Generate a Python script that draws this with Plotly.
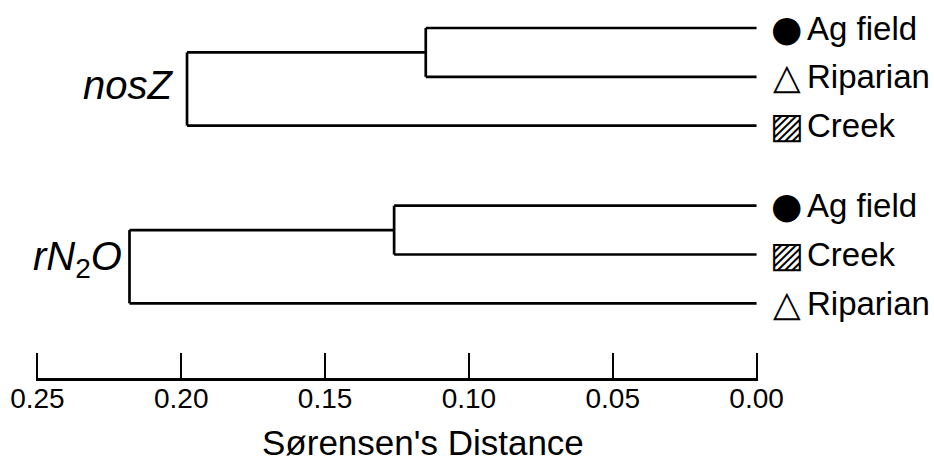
import plotly.graph_objects as go

# ---- data ----
groups = ["<i>nosZ</i>", "<i>rN</i><sub>2</sub><i>O</i>"]
nosz_leaves = ["Ag field", "Riparian", "Creek"]
nosz_symbols = ["●", "△", "▨"]
nosz_heights = [0.115, 0.198]          # merge distances (inner, outer)
rn2o_leaves = ["Ag field", "Creek", "Riparian"]
rn2o_symbols = ["●", "▨", "△"]
rn2o_heights = [0.126, 0.218]
tick_vals = [0.25, 0.20, 0.15, 0.10, 0.05, 0.00]
tick_text = ["0.25", "0.20", "0.15", "0.10", "0.05", "0.00"]
x_title = "Sørensen's Distance"

FONT = "Liberation Sans, Arial, sans-serif"
GROUP_GAP = 1.64

fig = go.Figure()
annotations = []

leaf_sets = [(nosz_leaves, nosz_symbols, nosz_heights), (rn2o_leaves, rn2o_symbols, rn2o_heights)]
offset = 0.0
for gi, (leaves, syms, heights) in enumerate(leaf_sets):
    ys = [offset + i for i in range(len(leaves))]
    h1, h2 = heights
    mid = (ys[0] + ys[1]) / 2
    xs, yy = [], []
    for y in ys[:2]:
        xs += [0, h1, None]; yy += [y, y, None]
    xs += [h1, h1, None]; yy += [ys[0], ys[1], None]
    xs += [h1, h2, None]; yy += [mid, mid, None]
    xs += [0, h2, None]; yy += [ys[2], ys[2], None]
    xs += [h2, h2, None]; yy += [mid, ys[2], None]
    fig.add_trace(go.Scatter(x=xs, y=yy, mode="lines",
                             line=dict(color="black", width=2.7),
                             hoverinfo="skip", showlegend=False))
    for y, name, s in zip(ys, leaves, syms):
        sym_font = dict(family="DejaVu Sans", size=36, color="black")
        if s == "△":
            sym_font = dict(family="DejaVu Sans", size=36, color="black", weight="bold")
        annotations.append(dict(x=0, y=y, xref="x", yref="y", text=s, showarrow=False,
                                xanchor="center", yanchor="middle", xshift=30,
                                font=sym_font))
        annotations.append(dict(x=0, y=y, xref="x", yref="y", text=name, showarrow=False,
                                xanchor="left", yanchor="middle", xshift=48,
                                font=dict(family=FONT, size=33, color="black")))
    annotations.append(dict(x=h2, y=(mid + ys[2]) / 2, xref="x", yref="y", text=groups[gi],
                            showarrow=False, xanchor="right", yanchor="middle",
                            xshift=-12 if gi == 0 else -5, yshift=4 if gi == 0 else 8,
                            font=dict(family=FONT, size=40, color="black")))
    offset = ys[-1] + GROUP_GAP

annotations.append(dict(x=0.536, y=-0.17, xref="paper", yref="paper", text=x_title,
                        showarrow=False, xanchor="center", yanchor="middle",
                        font=dict(family=FONT, size=35, color="black")))

fig.update_layout(
    width=934, height=464,
    margin=dict(l=36, r=176, t=0, b=86),
    plot_bgcolor="white", paper_bgcolor="white",
    annotations=annotations,
    xaxis=dict(range=[0.2505, -0.0005], tickvals=tick_vals, ticktext=tick_text,
               ticks="inside", ticklen=25, tickwidth=2.2, tickcolor="black",
               showline=True, linewidth=2.7, linecolor="black",
               showgrid=False, zeroline=False, ticklabelstandoff=-6,
               tickfont=dict(family=FONT, size=28, color="black")),
    yaxis=dict(range=[7.17, -0.574], visible=False, showgrid=False, zeroline=False),
)

fig.write_html("out.html")
